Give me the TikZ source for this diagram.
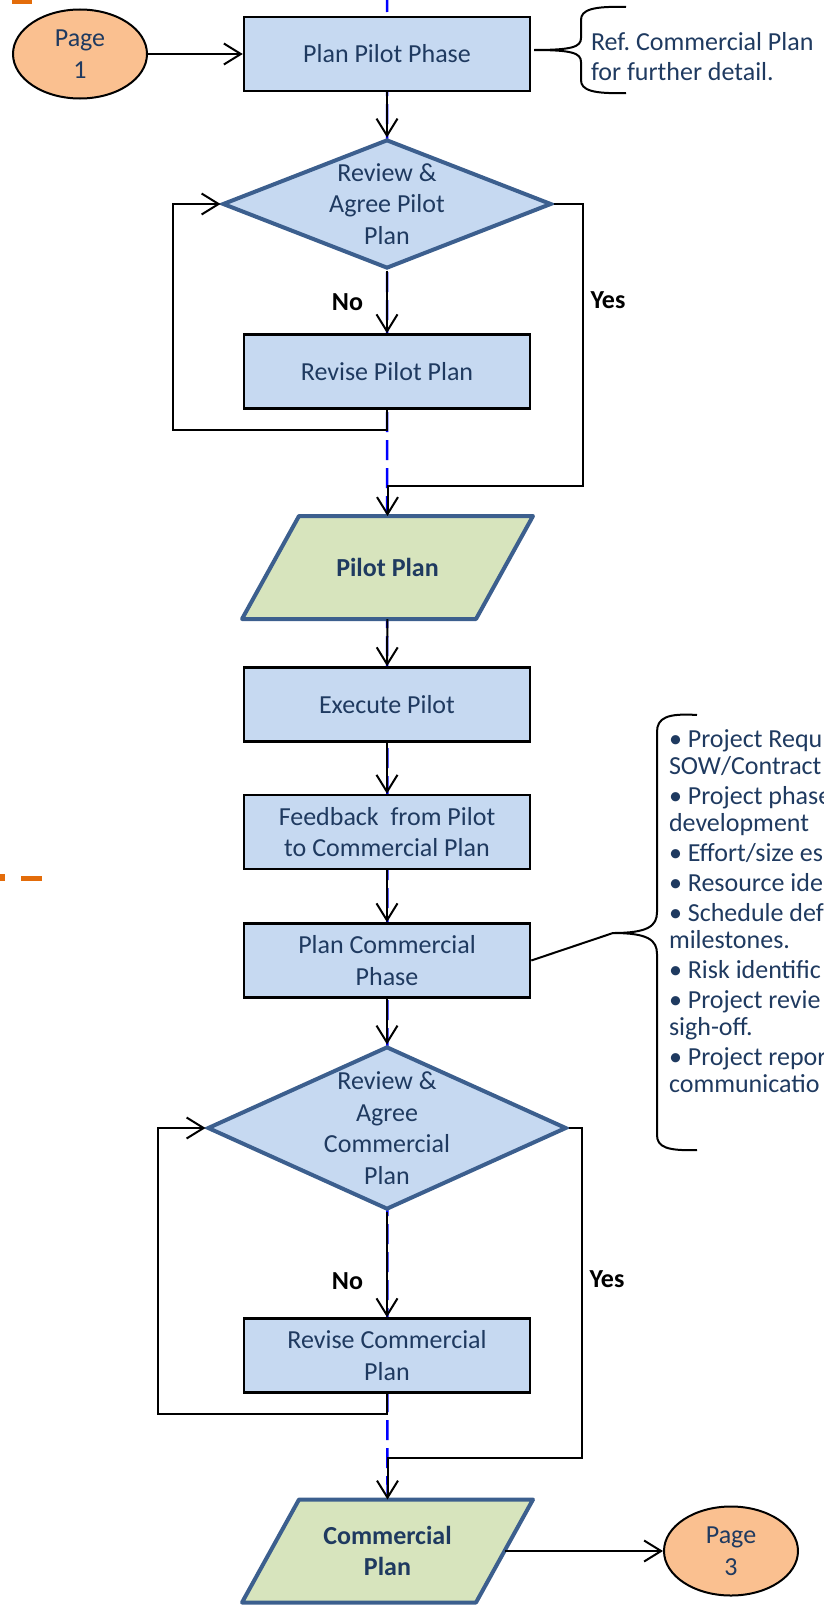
\documentclass[tikz,border=0pt]{standalone}
\usepackage{fontspec}
\setmainfont{Carlito}
\usetikzlibrary{shapes.geometric, arrows.meta, positioning, backgrounds}

\definecolor{boxblue}{HTML}{C6D9F1}
\definecolor{edgeblue}{HTML}{3C5F8E}
\definecolor{datagreen}{HTML}{D7E4BD}
\definecolor{pageorange}{HTML}{FAC090}
\definecolor{markorange}{HTML}{E36C0A}
\definecolor{navy}{HTML}{1F3A60}

\begin{document}
\begin{tikzpicture}[x=1pt, y=-1pt, line width=2pt,
    every node/.style={font=\fontsize{26}{31.5}\selectfont, text=navy, align=center},
    process/.style={rectangle, draw, line width=2.5pt, fill=boxblue, minimum width=286pt, minimum height=74pt, inner sep=0pt},
    decision/.style={diamond, draw=edgeblue, line width=4pt, fill=boxblue, inner sep=0pt},
    data/.style={rectangle, minimum width=232pt, minimum height=101pt, inner sep=0pt,
      font=\fontsize{26}{31.5}\selectfont\bfseries},
    slanted/.style={draw=edgeblue, line width=4pt, fill=datagreen, line join=round},
    page/.style={ellipse, draw, fill=pageorange, minimum width=134pt, minimum height=89pt, inner sep=0pt},
    answer/.style={font=\fontsize{26}{31.5}\selectfont\bfseries, text=black, inner sep=0pt},
    arr/.style={-{Straight Barb[length=17pt,width=21pt]}},
    guide/.style={blue, line width=2.5pt, dash pattern=on 20pt off 8pt, dash phase=8pt}]
  \useasboundingbox (0,0) rectangle (824,1606);

  % off-page marks
  \fill[markorange] (12,0) rectangle (32,4);
  \fill[markorange] (0,874) rectangle (5,881);
  \fill[markorange] (21,876) rectangle (42,881);

  % pilot phase
  \node[page] (p1) at (80,54) {Page\\1};
  \node[process] (plan1) at (387,54) {Plan Pilot Phase};
  \node[decision, minimum width=329pt, minimum height=129pt,
        label={center:{Review \&\\Agree Pilot\\Plan}}] (d1) at (387,204) {};
  \node[process] (rev1) at (387,371.5) {Revise Pilot Plan};
  \node[data] (pp) at (387.5,567.5) {Pilot Plan};
  \node[process] (exec) at (387,704.5) {Execute Pilot};
  \node[process] (fb) at (387,832) {Feedback\ \ from Pilot\\to Commercial Plan};

  % commercial phase
  \node[process] (plan2) at (387,960.5) {Plan Commercial\\Phase};
  \node[decision, minimum width=359pt, minimum height=163pt,
        label={center:{Review \&\\Agree\\Commercial\\Plan}}] (d2) at (387,1128) {};
  \node[process] (rev2) at (387,1355.5) {Revise Commercial\\Plan};
  \node[data] (cp) at (387.5,1551) {Commercial\\Plan};
  \node[page] (p3) at (731,1551) {Page\\3};

  \begin{scope}[on background layer]
    \draw[guide] (387,0) -- (cp.north);
    \foreach \n in {pp, cp}
      \filldraw[slanted] ([xshift=28.5pt]\n.north west) -- ([xshift=28.5pt]\n.north east)
        -- ([xshift=-28.5pt]\n.south east) -- ([xshift=-28.5pt]\n.south west) -- cycle;
  \end{scope}

  \draw[arr] (p1) -- (plan1);
  \draw[arr] (plan1) -- (d1);
  \draw[arr] (d1) -- node[answer, left=23pt] {No} (rev1);
  \draw[arr] (rev1.south) -- ++(0,20) -| ([xshift=-48pt]d1.west) -- (d1.west);
  \draw[arr] (d1.east) -- ++(29,0) |- node[answer, right=7pt, pos=0.17] {Yes} ([yshift=30pt]pp.north) -- (pp.north);
  \draw[arr] (pp) -- (exec);
  \draw[arr] (exec) -- (fb);
  \draw[arr] (fb) -- (plan2);
  \draw[arr] (plan2) -- (d2);
  \draw[arr] (d2) -- node[answer, left=23pt, pos=0.66] {No} (rev2);
  \draw[arr] (rev2.south) -- ++(0,20) -| ([xshift=-48pt]d2.west) -- (d2.west);
  \draw[arr] (d2.east) -- ++(13,0) |- node[answer, right=7pt, pos=0.23] {Yes} ([yshift=42pt]cp.north) -- (cp.north);
  \draw[arr] (cp.east) -- (p3);

  % notes
  \draw (626,7) .. controls (592,6) and (581,10) .. (581,20) -- (581,38)
    .. controls (581,47) and (572,50) .. (534,50) .. controls (572,50) and (581,53) .. (581,62)
    -- (581,80) .. controls (581,90) and (592,94) .. (626,93);
  \node[anchor=west, align=left, inner sep=0pt, font=\fontsize{26}{30}\selectfont] (ref) at (590,57)
    {Ref.\ Commercial Plan\\for further detail.};

  \coordinate (btip) at (613,933);
  \draw (697,715) .. controls (667,713) and (657,718) .. (657,732) -- (657,912)
    .. controls (657,926) and (648,933) .. (btip) .. controls (648,933) and (657,940) .. (657,954)
    -- (657,1135) .. controls (657,1147) and (667,1151) .. (697,1150);
  \draw (plan2.east) -- (btip);
  \node[anchor=north west, align=left, inner sep=0pt, font=\fontsize{26}{27}\selectfont] (tasks) at (668,729)
    {• Project Requ\\
     SOW/Contract\\[3pt]
     • Project phase\\
     development\\[3pt]
     • Effort/size es\\[3pt]
     • Resource ide\\[3pt]
     • Schedule def\\
     milestones.\\[3pt]
     • Risk identific\\[3pt]
     • Project revie\\
     sigh-off.\\[3pt]
     • Project repor\\
     communicatio};
\end{tikzpicture}
\end{document}
